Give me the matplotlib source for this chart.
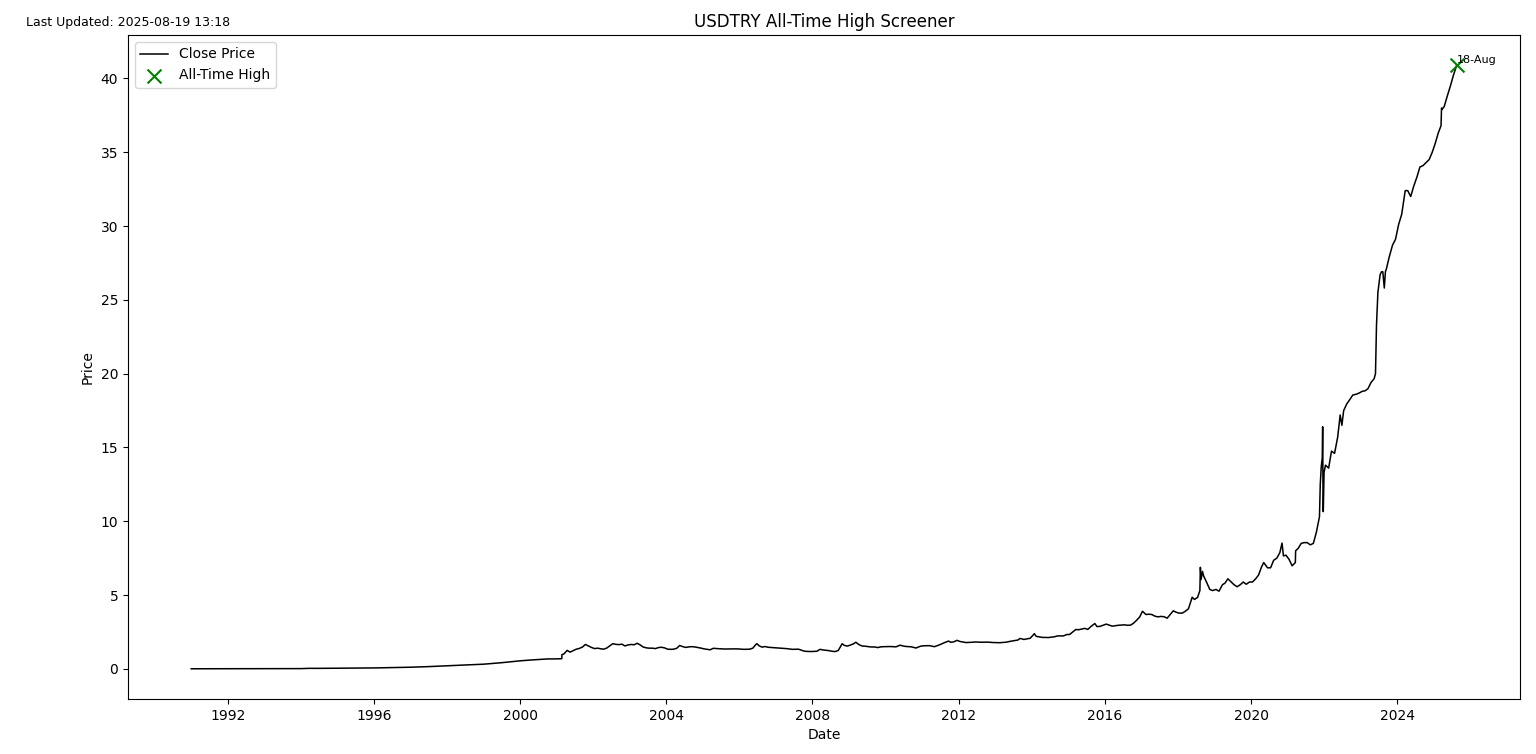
import pandas as pd
import matplotlib
matplotlib.use('Agg')
import matplotlib.pyplot as plt
import matplotlib.dates as mdates

ticker = 'USDTRY'
last_updated = 'Last Updated: 2025-08-19 13:18'

# close prices (approximate)
dates = [
    '1991-01-02', '1991-07-01', '1992-01-02', '1992-07-01', '1993-01-04', '1993-07-01',
    '1994-01-03', '1994-04-01', '1994-07-01', '1995-01-02', '1995-07-03', '1996-01-02',
    '1996-07-01', '1997-01-02', '1997-07-01', '1998-01-02', '1998-07-01', '1999-01-04',
    '1999-07-01', '2000-01-03', '2000-04-03', '2000-07-03', '2000-10-02', '2001-01-02',
    '2001-02-21', '2001-02-23', '2001-03-15', '2001-04-16', '2001-05-15', '2001-06-15',
    '2001-07-16', '2001-08-15', '2001-09-17', '2001-10-15', '2001-11-15', '2001-12-14',
    '2002-01-15', '2002-02-15', '2002-03-15', '2002-04-15', '2002-05-15', '2002-06-14',
    '2002-07-15', '2002-08-15', '2002-09-16', '2002-10-15', '2002-11-15', '2002-12-16',
    '2003-01-15', '2003-02-14', '2003-03-17', '2003-04-15', '2003-05-15', '2003-06-16',
    '2003-07-15', '2003-08-15', '2003-09-15', '2003-10-15', '2003-11-14', '2003-12-15',
    '2004-01-15', '2004-02-16', '2004-03-15', '2004-04-15', '2004-05-14', '2004-06-15',
    '2004-07-15', '2004-08-16', '2004-09-15', '2004-10-15', '2004-11-15', '2004-12-15',
    '2005-01-14', '2005-03-15', '2005-04-15', '2005-06-15', '2005-08-15', '2005-10-14',
    '2005-12-15', '2006-02-15', '2006-04-14', '2006-05-15', '2006-06-15', '2006-06-27',
    '2006-07-17', '2006-08-15', '2006-09-15', '2006-10-16', '2006-12-15', '2007-02-15',
    '2007-04-16', '2007-06-15', '2007-08-15', '2007-10-15', '2007-12-14', '2008-02-15',
    '2008-03-17', '2008-04-15', '2008-06-16', '2008-07-15', '2008-08-15', '2008-09-15',
    '2008-10-24', '2008-11-14', '2008-12-15', '2009-01-15', '2009-02-16', '2009-03-09',
    '2009-04-15', '2009-05-15', '2009-06-15', '2009-07-15', '2009-08-14', '2009-09-15',
    '2009-10-15', '2009-11-16', '2009-12-15', '2010-02-15', '2010-04-15', '2010-05-25',
    '2010-07-15', '2010-09-15', '2010-11-01', '2010-12-15', '2011-01-14', '2011-03-15',
    '2011-05-03', '2011-06-15', '2011-08-15', '2011-09-22', '2011-10-14', '2011-11-15',
    '2011-12-15', '2012-01-16', '2012-03-15', '2012-05-15', '2012-06-15', '2012-08-15',
    '2012-10-15', '2012-12-14', '2013-02-15', '2013-04-15', '2013-06-14', '2013-08-15',
    '2013-09-05', '2013-10-15', '2013-12-16', '2014-01-27', '2014-02-14', '2014-04-15',
    '2014-06-16', '2014-08-15', '2014-09-15', '2014-11-14', '2014-12-15', '2015-01-15',
    '2015-03-16', '2015-04-15', '2015-06-15', '2015-07-15', '2015-08-14', '2015-09-23',
    '2015-10-15', '2015-11-16', '2015-12-15', '2016-01-15', '2016-03-15', '2016-05-16',
    '2016-07-15', '2016-08-15', '2016-09-15', '2016-10-14', '2016-11-15', '2016-12-15',
    '2017-01-11', '2017-02-15', '2017-03-15', '2017-04-14', '2017-05-15', '2017-06-15',
    '2017-07-14', '2017-08-15', '2017-09-15', '2017-10-16', '2017-11-15', '2017-12-15',
    '2018-01-15', '2018-02-15', '2018-03-15', '2018-04-16', '2018-05-23', '2018-06-15',
    '2018-07-16', '2018-08-08', '2018-08-13', '2018-08-20', '2018-09-03', '2018-09-14',
    '2018-10-15', '2018-11-15', '2018-12-14', '2019-01-15', '2019-02-15', '2019-03-22',
    '2019-04-15', '2019-05-15', '2019-06-14', '2019-07-15', '2019-08-15', '2019-09-16',
    '2019-10-15', '2019-11-15', '2019-12-16', '2020-01-15', '2020-02-14', '2020-03-16',
    '2020-04-15', '2020-05-07', '2020-06-15', '2020-07-15', '2020-08-14', '2020-09-15',
    '2020-10-15', '2020-11-06', '2020-11-20', '2020-12-15', '2021-01-15', '2021-02-15',
    '2021-03-19', '2021-03-22', '2021-04-15', '2021-05-17', '2021-06-15', '2021-07-15',
    '2021-08-16', '2021-09-15', '2021-10-15', '2021-11-15', '2021-11-23', '2021-12-03',
    '2021-12-13', '2021-12-17', '2021-12-20', '2021-12-23', '2021-12-31', '2022-01-14',
    '2022-02-15', '2022-03-15', '2022-04-15', '2022-05-16', '2022-06-10', '2022-06-27',
    '2022-07-15', '2022-08-15', '2022-09-15', '2022-10-14', '2022-11-15', '2022-12-15',
    '2023-01-16', '2023-02-15', '2023-03-15', '2023-04-14', '2023-05-15', '2023-05-29',
    '2023-06-08', '2023-06-22', '2023-07-03', '2023-07-14', '2023-07-28', '2023-08-10',
    '2023-08-25', '2023-09-05', '2023-09-15', '2023-10-13', '2023-11-15', '2023-12-15',
    '2024-01-15', '2024-02-15', '2024-03-21', '2024-04-15', '2024-05-15', '2024-06-14',
    '2024-07-15', '2024-08-15', '2024-09-16', '2024-10-15', '2024-11-15', '2024-12-16',
    '2025-01-15', '2025-02-14', '2025-03-14', '2025-03-19', '2025-03-24', '2025-04-15',
    '2025-05-15', '2025-06-16', '2025-07-15', '2025-08-18',
]
close = [
    0.0029, 0.0041, 0.0051, 0.0068, 0.0087, 0.0115,
    0.0148, 0.033, 0.031, 0.039, 0.044, 0.060,
    0.081, 0.108, 0.150, 0.206, 0.265, 0.315,
    0.415, 0.542, 0.590, 0.628, 0.670, 0.673,
    0.685, 0.960, 1.010, 1.250, 1.130, 1.230,
    1.330, 1.380, 1.480, 1.650, 1.550, 1.450,
    1.370, 1.400, 1.360, 1.330, 1.400, 1.550,
    1.700, 1.660, 1.640, 1.670, 1.550, 1.620,
    1.650, 1.630, 1.730, 1.620, 1.480, 1.420,
    1.400, 1.400, 1.370, 1.440, 1.460, 1.420,
    1.330, 1.320, 1.330, 1.390, 1.580, 1.500,
    1.450, 1.490, 1.500, 1.480, 1.440, 1.400,
    1.350, 1.290, 1.390, 1.360, 1.340, 1.350,
    1.350, 1.320, 1.330, 1.400, 1.650, 1.700,
    1.560, 1.470, 1.510, 1.460, 1.430, 1.400,
    1.370, 1.320, 1.330, 1.190, 1.170, 1.190,
    1.320, 1.280, 1.230, 1.190, 1.170, 1.240,
    1.700, 1.590, 1.540, 1.610, 1.700, 1.800,
    1.620, 1.540, 1.530, 1.500, 1.480, 1.480,
    1.440, 1.490, 1.500, 1.510, 1.490, 1.600,
    1.520, 1.490, 1.410, 1.530, 1.560, 1.570,
    1.500, 1.600, 1.780, 1.880, 1.800, 1.830,
    1.930, 1.850, 1.780, 1.800, 1.820, 1.800,
    1.810, 1.780, 1.770, 1.800, 1.880, 1.950,
    2.060, 1.990, 2.070, 2.380, 2.200, 2.130,
    2.120, 2.170, 2.230, 2.230, 2.320, 2.330,
    2.660, 2.650, 2.740, 2.670, 2.860, 3.070,
    2.860, 2.880, 2.950, 3.030, 2.890, 2.950,
    2.980, 2.950, 2.960, 3.090, 3.300, 3.520,
    3.900, 3.680, 3.700, 3.680, 3.570, 3.520,
    3.550, 3.530, 3.430, 3.680, 3.930, 3.830,
    3.770, 3.780, 3.900, 4.070, 4.850, 4.700,
    4.840, 5.300, 6.880, 6.050, 6.600, 6.300,
    5.850, 5.380, 5.300, 5.380, 5.260, 5.700,
    5.800, 6.100, 5.900, 5.700, 5.560, 5.700,
    5.880, 5.730, 5.880, 5.880, 6.080, 6.350,
    6.900, 7.200, 6.840, 6.850, 7.350, 7.500,
    7.870, 8.520, 7.650, 7.700, 7.420, 6.980,
    7.200, 8.000, 8.150, 8.500, 8.550, 8.550,
    8.400, 8.500, 9.250, 10.300, 12.500, 13.700,
    14.300, 16.400, 12.500, 10.650, 13.300, 13.800,
    13.600, 14.750, 14.600, 15.700, 17.200, 16.500,
    17.500, 17.950, 18.250, 18.550, 18.600, 18.680,
    18.800, 18.840, 18.980, 19.400, 19.650, 20.000,
    23.300, 25.500, 26.100, 26.700, 26.900, 26.900,
    25.800, 26.900, 27.100, 27.900, 28.700, 29.100,
    30.100, 30.800, 32.400, 32.400, 32.000, 32.700,
    33.300, 34.000, 34.100, 34.300, 34.500, 35.000,
    35.600, 36.300, 36.800, 38.000, 37.900, 38.100,
    38.800, 39.500, 40.200, 40.900,
]

df = pd.DataFrame({'Date': pd.to_datetime(dates), 'Close': close})

# all-time high point
ath_idx = df['Close'].idxmax()
ath_date = df.loc[ath_idx, 'Date']
ath_price = df.loc[ath_idx, 'Close']

fig, ax = plt.subplots(figsize=(15.36, 7.54), dpi=100)
fig.subplots_adjust(left=0.0833, right=0.9896, top=0.9536, bottom=0.0730)

ax.plot(df['Date'], df['Close'], color='black', linewidth=1.1, label='Close Price')
ax.scatter([ath_date], [ath_price], marker='x', color='green', s=100, linewidths=1.5,
           label='All-Time High', zorder=3)
ax.text(ath_date, ath_price + 0.15, ath_date.strftime('%d-%b'), fontsize=8)

ax.set_title(f'{ticker} All-Time High Screener')
ax.set_xlabel('Date')
ax.set_ylabel('Price')
ax.xaxis.set_major_locator(mdates.YearLocator(4))
ax.xaxis.set_major_formatter(mdates.DateFormatter('%Y'))
ax.legend(loc='upper left')

fig.text(0.017, 0.966, last_updated, fontsize=9)

fig.savefig('out.png', dpi=100)
